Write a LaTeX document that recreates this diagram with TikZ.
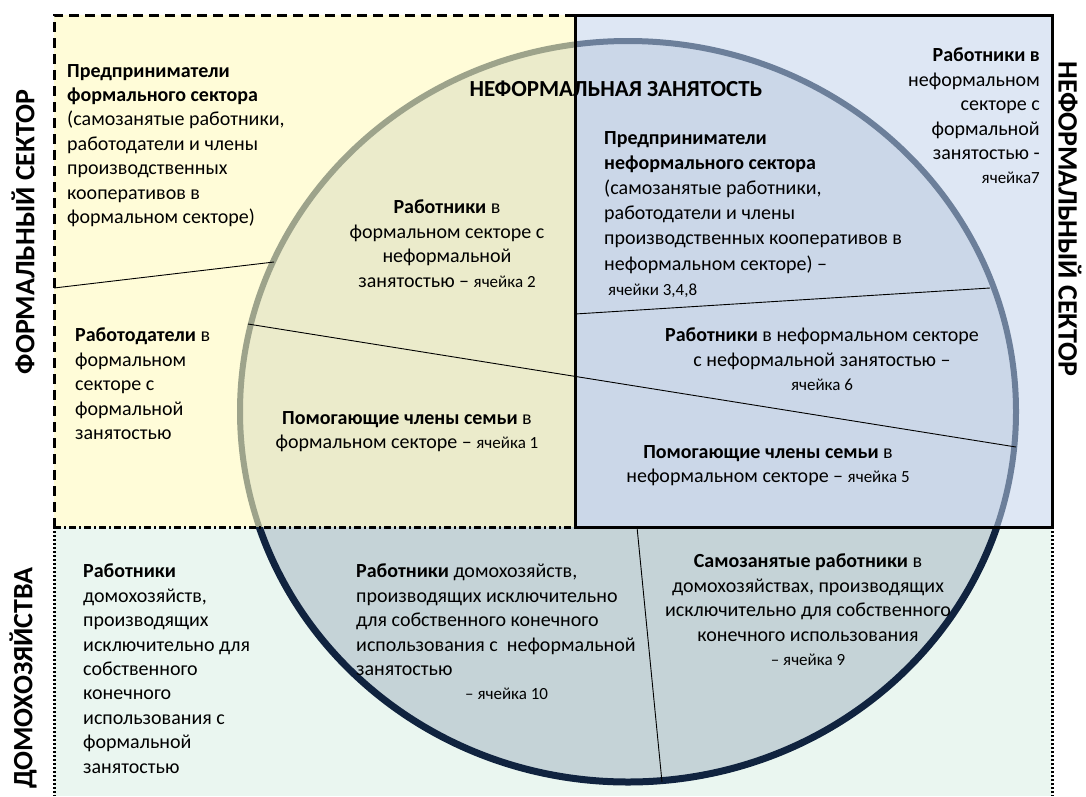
\documentclass[tikz,border=0pt]{standalone}
\usepackage{fontspec}
\setmainfont{Carlito}
\usepackage{xcolor}
\definecolor{yelbg}{HTML}{FFFCD8}
\definecolor{yelin}{HTML}{EBEBCB}
\definecolor{yelring}{HTML}{9DA38B}
\definecolor{blubg}{HTML}{DEE7F4}
\definecolor{bluin}{HTML}{CBD7E8}
\definecolor{bluring}{HTML}{6C7F9A}
\definecolor{hhbg}{HTML}{EAF6F0}
\definecolor{hhin}{HTML}{C5D3D7}
\definecolor{hhring}{HTML}{10233F}
\newcommand{\cellno}[1]{{\fontsize{17}{24.4}\selectfont #1}}

\begin{document}
\begin{tikzpicture}[x=1pt, y=-1pt,
  every node/.style={font=\fontsize{20}{24.4}\selectfont, inner sep=0pt},
  side/.style={font=\fontsize{28}{32}\selectfont\bfseries},
  ring/.style={line width=6pt}]
\useasboundingbox (0,0) rectangle (1086,796);
\fill[white] (0,0) rectangle (1086,796);
% Sectors
\fill[yelbg] (54,15) rectangle (575,527);
\fill[blubg] (575,15) rectangle (1052,527);
\fill[hhbg] (54,527) rectangle (1052,796);
% Informal employment circle
\begin{scope}
\clip (54,15) rectangle (575,527);
\draw[ring, draw=yelring, fill=yelin] (628,411.5) ellipse [x radius=388pt, y radius=370.5pt];
\end{scope}
\begin{scope}
\clip (575,15) rectangle (1052,527);
\draw[ring, draw=bluring, fill=bluin] (628,411.5) ellipse [x radius=388pt, y radius=370.5pt];
\end{scope}
\begin{scope}
\clip (54,527) rectangle (1052,796);
\draw[ring, line width=7pt, draw=hhring, fill=hhin] (628,411.5) ellipse [x radius=388pt, y radius=370.5pt];
\end{scope}
% Cell borders
\coordinate (l1a) at (54,288);
\coordinate (l1b) at (274,262);
\coordinate (l2a) at (248,324);
\coordinate (l2b) at (1016,447);
\coordinate (l3a) at (575,314);
\coordinate (l3b) at (990,288);
\coordinate (l4a) at (637,527);
\coordinate (l4b) at (662,782);
\draw[line width=0.9pt] (l1a) -- (l1b);
\draw[line width=0.9pt] (l2a) -- (l2b);
\draw[line width=0.9pt] (l3a) -- (l3b);
\draw[line width=0.9pt] (l4a) -- (l4b);
% Frames
\draw[line width=3pt, dash pattern=on 10pt off 6pt] (575,15) -- (54,15) -- (54,527);
\draw[line width=3pt, dash pattern=on 7pt off 3pt on 2pt off 3pt] (54,527) -- (575,527);
\draw[line width=3pt, dash pattern=on 2pt off 2pt] (54,527) -- (54,796);
\draw[line width=3pt, dash pattern=on 2pt off 2pt] (1052,527) -- (1052,796);
\draw[line width=3pt] (575,15) rectangle (1052,527);
% Labels
\node[side, rotate=90] (fsec) at (23,232) {ФОРМАЛЬНЫЙ СЕКТОР};
\node[side, rotate=-90] (isec) at (1070,219) {НЕФОРМАЛЬНЫЙ СЕКТОР};
\node[side, rotate=90] (hh) at (23,678) {ДОМОХОЗЯЙСТВА};
\node[font=\fontsize{23}{28}\selectfont\bfseries] (title) at (616,89) {НЕФОРМАЛЬНАЯ ЗАНЯТОСТЬ};
% Formal sector
\node[anchor=north west, align=left] (fsentr) at (67,64) {\textbf{Предприниматели}\\\textbf{формального сектора}\\(самозанятые работники,\\работодатели и члены\\производственных\\кооперативов в\\формальном секторе)};
\node[anchor=north west, align=left] (fsempl) at (75,328) {\textbf{Работодатели} в\\формальном\\секторе с\\формальной\\занятостью};
\node[anchor=north, align=center] (fswork) at (447,200) {\textbf{Работники} в\\формальном секторе с\\неформальной\\занятостью – \cellno{ячейка 2}};
\node[anchor=north, align=center] (fsfam) at (407,411) {\textbf{Помогающие члены семьи} в\\формальном секторе – \cellno{ячейка 1}};
% Informal sector
\node[anchor=north east, align=right] (isform) at (1040,48) {\textbf{Работники в}\\неформальном\\секторе с\\формальной\\занятостью -\\\cellno{ячейка7}};
\node[anchor=north west, align=left, font=\fontsize{20}{25.2}\selectfont] (isentr) at (604,131) {\textbf{Предприниматели}\\\textbf{неформального сектора}\\(самозанятые работники,\\работодатели и члены\\производственных кооперативов в\\неформальном секторе) –\\\hspace*{4pt}\cellno{ячейки 3,4,8}};
\node[anchor=north, align=center] (iswork) at (822,328) {\textbf{Работники} в неформальном секторе\\с неформальной занятостью –\\\cellno{ячейка 6}};
\node[anchor=north, align=center] (isfam) at (768,445) {\textbf{Помогающие члены семьи} в\\неформальном секторе – \cellno{ячейка 5}};
% Households
\node[anchor=north west, align=left] (hhform) at (83,564) {\textbf{Работники}\\домохозяйств,\\производящих\\исключительно для\\собственного\\конечного\\использования с\\формальной\\занятостью};
\node[anchor=north west, align=left] (hhinf) at (356,564) {\textbf{Работники} домохозяйств,\\производящих исключительно\\для собственного конечного\\использования с\ \ неформальной\\занятостью\\\hspace*{109pt}\cellno{– ячейка 10}};
\node[anchor=north, align=center] (hhself) at (808,554) {\textbf{Самозанятые работники} в\\домохозяйствах, производящих\\исключительно для собственного\\конечного использования\\\cellno{– ячейка 9}};
\end{tikzpicture}
\end{document}
